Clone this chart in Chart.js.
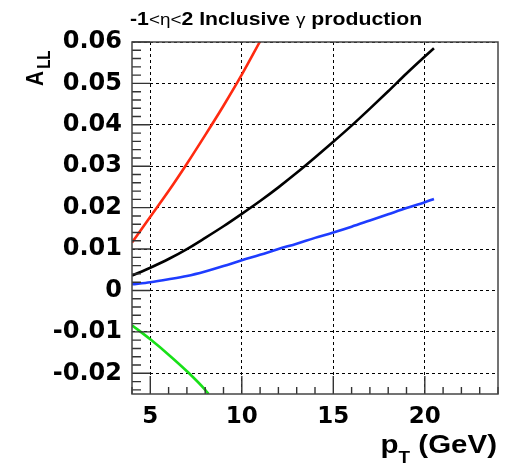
<!DOCTYPE html>
<html>
<head>
<meta charset="utf-8">
<script src="https://cdn.jsdelivr.net/npm/chart.js@4/dist/chart.umd.min.js"></script>
<style>
  html, body { margin: 0; padding: 0; background: #fff; }
  canvas { display: block; }
</style>
</head>
<body>
<canvas id="c" width="515" height="465"></canvas>
<script>
// Transverse momentum (GeV) and double-helicity asymmetry A_LL for each curve
const ptRed   = [4, 5, 6, 7, 8, 9, 10, 10.98];
const allRed  = [0.0116, 0.0178, 0.0240, 0.0306, 0.0375, 0.0446, 0.0521, 0.0600];

const ptBlack  = [4, 5, 6, 7, 8, 9, 10, 11, 12, 13, 14, 15, 16, 17, 18, 19, 20, 20.5];
const allBlack = [0.0036, 0.0055, 0.0076, 0.0100, 0.0127, 0.0155, 0.0185, 0.0216, 0.0249,
                  0.0284, 0.0321, 0.0359, 0.0398, 0.0439, 0.0481, 0.0524, 0.0565, 0.0585];

const ptBlue  = [4, 5, 6, 7, 8, 9, 10, 11, 12, 13, 14, 15, 16, 17, 18, 19, 20, 20.5];
const allBlue = [0.0015, 0.0020, 0.0027, 0.0035, 0.0046, 0.0059, 0.0073, 0.0086, 0.0100,
                 0.0113, 0.0127, 0.0140, 0.0154, 0.0169, 0.0184, 0.0199, 0.0213, 0.0221];

const ptGreen  = [4, 5, 6, 7, 8, 8.18];
const allGreen = [-0.0084, -0.0118, -0.0155, -0.0195, -0.0240, -0.0250];

// Axis ticks
const xTicks = [5, 10, 15, 20];
const yTicks = [-0.02, -0.01, 0, 0.01, 0.02, 0.03, 0.04, 0.05, 0.06];
const yTickLabels = ['-0.02', '-0.01', '0', '0.01', '0.02', '0.03', '0.04', '0.05', '0.06'];

const TICK_FONT = "'DejaVu Sans', sans-serif";
const TEXT_FONT = "'Liberation Sans', Arial, Helvetica, sans-serif";
const STRETCH = 1.18;   // wide Helvetica look for the titles

function pts(xs, ys) { return xs.map((x, i) => ({ x: x, y: ys[i] })); }

function curve(xs, ys, color) {
  return {
    data: pts(xs, ys),
    borderColor: color,
    borderWidth: 2.6,
    pointRadius: 0,
    fill: false,
    cubicInterpolationMode: 'monotone'
  };
}

// Frame with inward major/minor ticks
const framePlugin = {
  id: 'frame',
  afterDatasetsDraw(chart) {
    const ctx = chart.ctx;
    const a = chart.chartArea;
    const xs = chart.scales.x, ys = chart.scales.y;
    ctx.save();
    ctx.strokeStyle = '#333';
    ctx.lineWidth = 1.4;
    ctx.beginPath();
    // y-axis: minor every 0.002, major every 0.01
    for (let k = -12; k <= 30; k++) {
      const py = ys.getPixelForValue(k * 0.002);
      const len = (k % 5 === 0) ? 18 : 9;
      ctx.moveTo(a.left, py);
      ctx.lineTo(a.left + len, py);
    }
    // x-axis: minor every 1 GeV, major every 5 GeV
    for (let v = 4; v <= 24; v++) {
      const px = xs.getPixelForValue(v);
      const len = (v % 5 === 0) ? 18 : 7;
      ctx.moveTo(px, a.bottom);
      ctx.lineTo(px, a.bottom - len);
    }
    ctx.stroke();
    ctx.lineWidth = 1.5;
    ctx.strokeStyle = '#444';
    ctx.strokeRect(a.left, a.top, a.right - a.left, a.bottom - a.top);
    ctx.restore();
  }
};

// Plot title and axis titles (with subscripts)
const textPlugin = {
  id: 'texts',
  afterDraw(chart) {
    const ctx = chart.ctx;
    const a = chart.chartArea;
    ctx.save();
    ctx.fillStyle = '#000';
    ctx.textBaseline = 'alphabetic';
    ctx.textAlign = 'left';

    // Title, in runs so the Greek letters use a lighter face
    const runs = [
      ['-1', 'bold 18px ' + TEXT_FONT],
      ['<\u03B7<', '16px ' + TEXT_FONT],
      ['2 Inclusive ', 'bold 18px ' + TEXT_FONT],
      ['\u03B3', '16px ' + TEXT_FONT],
      [' production', 'bold 18px ' + TEXT_FONT]
    ];
    ctx.save();
    ctx.translate(130, 25);
    ctx.scale(STRETCH, 1);
    let x = 0;
    runs.forEach(([t, f]) => {
      ctx.font = f;
      ctx.fillText(t, x, 0);
      x += ctx.measureText(t).width;
    });
    ctx.restore();

    // x-axis title: p_T (GeV), ending at the right edge of the frame
    const fMain = 'bold 25px ' + TEXT_FONT;
    const fSub = 'bold 16px ' + TEXT_FONT;
    ctx.font = fMain;
    const wP = ctx.measureText('p').width;
    const wRest = ctx.measureText(' (GeV)').width;
    ctx.font = fSub;
    const wT = ctx.measureText('T').width;
    const total = (wP + wT + wRest) * STRETCH;
    ctx.save();
    ctx.translate(a.right - total - 1, 453);
    ctx.scale(STRETCH, 1);
    ctx.font = fMain;
    ctx.fillText('p', 0, 0);
    ctx.font = fSub;
    ctx.fillText('T', wP, 10);
    ctx.font = fMain;
    ctx.fillText(' (GeV)', wP + wT, 0);
    ctx.restore();

    // y-axis title: A_LL, rotated
    ctx.save();
    ctx.translate(42.5, 86);
    ctx.rotate(-Math.PI / 2);
    ctx.scale(1, STRETCH);
    ctx.font = 'bold 21px ' + TEXT_FONT;
    ctx.fillText('A', 0, 0);
    const wA = ctx.measureText('A').width;
    ctx.font = 'bold 15px ' + TEXT_FONT;
    ctx.fillText('LL', wA + 2, 6.5);
    ctx.restore();

    ctx.restore();
  }
};

new Chart(document.getElementById('c'), {
  type: 'line',
  data: {
    datasets: [
      curve(ptRed, allRed, '#ff2a10'),
      curve(ptBlack, allBlack, '#000000'),
      curve(ptBlue, allBlue, '#1e3cff'),
      curve(ptGreen, allGreen, '#18e018')
    ]
  },
  options: {
    responsive: false,
    animation: false,
    devicePixelRatio: 1,
    layout: { padding: { left: 0, right: 17, top: 42, bottom: 0 } },
    plugins: { legend: { display: false }, tooltip: { enabled: false }, title: { display: false } },
    scales: {
      x: {
        type: 'linear',
        min: 4, max: 24,
        afterBuildTicks: s => { s.ticks = xTicks.map(v => ({ value: v })); },
        afterFit: s => { s.height = 71; },
        ticks: {
          font: { family: TICK_FONT, size: 23, weight: 'bold' },
          color: '#000',
          padding: 9,
          maxRotation: 0,
          callback: v => String(v)
        },
        grid: { color: '#000', lineWidth: 1, drawTicks: false },
        border: { display: false, dash: [3, 3] }
      },
      y: {
        type: 'linear',
        min: -0.025, max: 0.06,
        afterBuildTicks: s => { s.ticks = yTicks.map(v => ({ value: v })); },
        afterFit: s => { s.width = 132; },
        ticks: {
          font: { family: TICK_FONT, size: 24, weight: 'bold' },
          color: '#000',
          padding: 10,
          callback: (v, i) => yTickLabels[i]
        },
        grid: { color: '#000', lineWidth: 1, drawTicks: false },
        border: { display: false, dash: [3, 3] }
      }
    }
  },
  plugins: [framePlugin, textPlugin]
});
</script>
</body>
</html>
